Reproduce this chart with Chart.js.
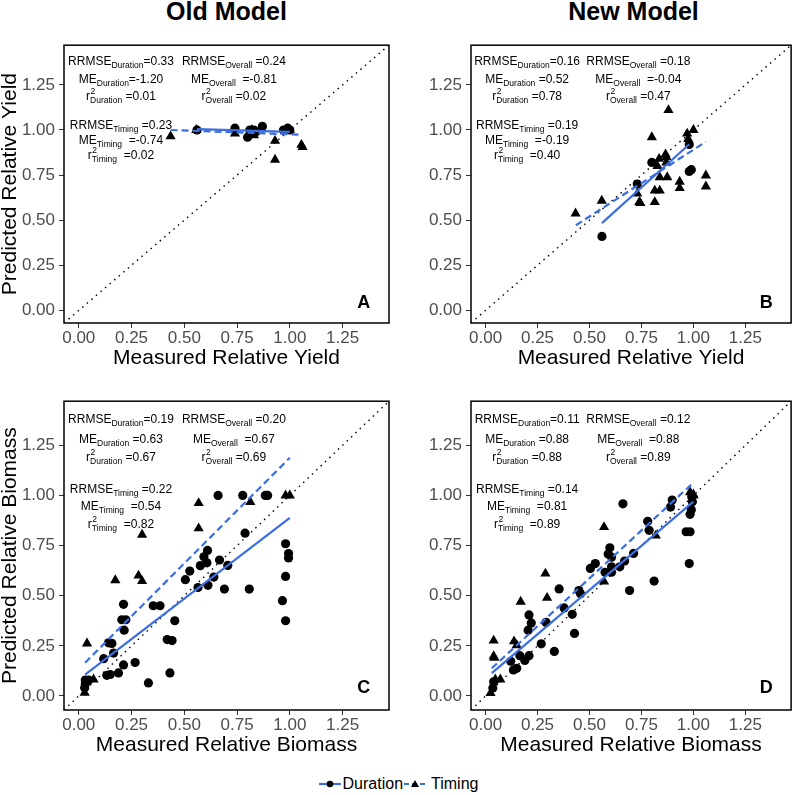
<!DOCTYPE html>
<html>
<head>
<meta charset="utf-8">
<script src="https://cdn.jsdelivr.net/npm/chart.js@4.4.1/dist/chart.umd.min.js"></script>
<style>
  body { margin: 0; background: #fff; width: 797px; height: 795px; position: relative; overflow: hidden;
         font-family: "Liberation Sans", Arial, sans-serif; }
  canvas { position: absolute; }
  .head { position: absolute; top: -1px; font-weight: bold; font-size: 25px; line-height: 24px; text-align: center; }
  #legend { position: absolute; left: 0; top: 774px; width: 797px; height: 20px; display: flex;
            justify-content: center; align-items: center; font-size: 16px; color: #000; }
  #legend span { margin-left: 2px; }
</style>
</head>
<body>
<div class="head" style="left:64px;width:325px">Old Model</div>
<div class="head" style="left:471px;width:325px">New Model</div>
<canvas id="chartA" width="398" height="356" style="left:0;top:31px"></canvas>
<canvas id="chartB" width="399" height="356" style="left:398px;top:31px"></canvas>
<canvas id="chartC" width="398" height="387" style="left:0;top:387px"></canvas>
<canvas id="chartD" width="399" height="387" style="left:398px;top:387px"></canvas>
<div id="legend">
  <svg width="22" height="12"><line x1="0" y1="6" x2="22" y2="6" stroke="#3b6ee0" stroke-width="2.2"/><circle cx="11" cy="6" r="3.3" fill="#000"/></svg><span>Duration</span>
  <svg width="22" height="12" style="margin-left:1px"><line x1="0" y1="6" x2="22" y2="6" stroke="#3b6ee0" stroke-width="2.2" stroke-dasharray="5,3"/><polygon points="11,2 15,9 7,9" fill="#000"/></svg><span style="margin-left:5px">Timing</span>
</div>
<script>
// axis ticks shared by every panel
const tickValues = [0, 0.25, 0.5, 0.75, 1, 1.25];
const axisMin = -0.07, axisMax = 1.47;

// Panel A: old model, yield
const durationA = [[0.56,1.00],[0.74,1.01],[0.80,0.96],[0.81,1.00],[0.83,1.00],[0.84,0.99],[0.87,1.02],[0.97,1.00],[0.99,1.01],[1.00,1.00]];
const timingA = [[0.435,0.965],[0.557,1.00],[0.74,0.98],[0.74,1.00],[0.82,1.00],[0.83,0.97],[0.93,0.94],[0.93,0.835],[0.99,1.00],[1.00,1.00],[1.055,0.918],[1.06,0.905]];
const fitDurationA = [[0.56,1.005],[1.00,0.99]];
const fitTimingA = [[0.435,1.00],[1.055,0.974]];

// Panel B: new model, yield
const durationB = [[0.56,0.41],[0.73,0.70],[0.80,0.82],[0.98,0.92],[0.98,0.77],[0.99,0.78]];
const timingB = [[0.433,0.537],[0.559,0.608],[0.73,0.647],[0.74,0.60],[0.745,0.595],[0.80,0.96],[0.814,0.664],[0.814,0.60],
  [0.827,0.80],[0.835,0.84],[0.838,0.664],[0.838,0.738],[0.866,0.865],[0.87,0.85],[0.87,0.82],[0.874,0.738],[0.88,1.11],
  [0.934,0.713],[0.934,0.678],[0.97,0.98],[0.975,0.95],[1.00,1.00],[1.06,0.748],[1.06,0.687]];
const fitDurationB = [[0.56,0.484],[0.98,0.921]];
const fitTimingB = [[0.435,0.472],[1.06,0.935]];

// Panel C: old model, biomass
const durationC = [[0.66,1.00],[0.777,1.00],[0.884,1.00],[0.895,1.00],[0.788,0.812],[0.98,0.759],[0.994,0.71],[0.994,0.688],
  [0.98,0.596],[0.965,0.475],[0.98,0.375],[0.808,0.533],[0.69,0.533],[0.706,0.651],[0.667,0.678],[0.64,0.593],[0.612,0.552],
  [0.565,0.541],[0.61,0.726],[0.593,0.694],[0.607,0.664],[0.576,0.65],[0.526,0.623],[0.505,0.58],[0.353,0.45],[0.385,0.45],
  [0.455,0.375],[0.419,0.281],[0.442,0.276],[0.432,0.115],[0.33,0.065],[0.267,0.167],[0.212,0.457],[0.204,0.38],[0.223,0.38],
  [0.215,0.328],[0.157,0.262],[0.141,0.265],[0.165,0.214],[0.118,0.186],[0.133,0.103],[0.149,0.107],[0.188,0.115],[0.212,0.155],
  [0.031,0.079],[0.047,0.079],[0.031,0.06],[0.028,0.041]];
const timingC = [[0.028,0.016],[0.039,0.262],[0.07,0.082],[0.173,0.577],[0.283,0.60],[0.30,0.573],[0.30,0.804],[0.568,0.962],
  [0.568,0.836],[0.813,0.967],[0.98,1.00],[1.00,1.00]];
const fitDurationC = [[0.03,0.107],[1.00,0.888]];
const fitTimingC = [[0.03,0.166],[1.00,1.188]];

// Panel D: new model, biomass
const durationD = [[0.661,0.958],[0.898,0.977],[0.89,0.942],[0.78,0.871],[0.787,0.826],[0.992,0.993],[0.995,0.969],[0.99,0.929],
  [0.984,0.906],[0.965,0.819],[0.984,0.819],[0.98,0.66],[0.811,0.573],[0.693,0.526],[0.598,0.739],[0.59,0.708],[0.606,0.692],
  [0.606,0.644],[0.606,0.617],[0.646,0.644],[0.669,0.673],[0.712,0.711],[0.575,0.617],[0.528,0.66],[0.504,0.636],[0.449,0.526],
  [0.457,0.51],[0.354,0.534],[0.378,0.439],[0.417,0.407],[0.428,0.312],[0.331,0.222],[0.268,0.26],[0.291,0.367],[0.22,0.364],
  [0.209,0.404],[0.205,0.328],[0.209,0.201],[0.189,0.177],[0.165,0.201],[0.15,0.138],[0.134,0.13],[0.121,0.173],[0.039,0.071],
  [0.035,0.04]];
const timingD = [[0.039,0.276],[0.039,0.198],[0.042,0.19],[0.024,0.014],[0.047,0.082],[0.071,0.082],[0.137,0.272],[0.15,0.253],
  [0.169,0.47],[0.288,0.61],[0.296,0.489],[0.57,0.842],[0.57,0.57],[0.819,0.80],[0.984,1.016],[1.00,1.00],[1.00,1.005]];
const fitDurationD = [[0.03,0.114],[1.00,0.969]];
const fitTimingD = [[0.03,0.138],[1.00,1.064]];

// fit statistics, one entry per panel (A, B, C, D)
const rrmseDuration = [0.33, 0.16, 0.19, 0.11];
const meDuration = [-1.20, 0.52, 0.63, 0.88];
const r2Duration = [0.01, 0.78, 0.67, 0.88];
const rrmseOverall = [0.24, 0.18, 0.20, 0.12];
const meOverall = [-0.81, -0.04, 0.67, 0.88];
const r2Overall = [0.02, 0.47, 0.69, 0.89];
const rrmseTiming = [0.23, 0.19, 0.22, 0.14];
const meTiming = [-0.74, -0.19, 0.54, 0.81];
const r2Timing = [0.02, 0.40, 0.82, 0.89];

const FONT = '"Liberation Sans", Arial, sans-serif';
const BLUE = '#3b6ee0';

const toXY = arr => arr.map(p => ({ x: p[0], y: p[1] }));

function drawStat(ctx, cx, cy, main, sup, sub, value) {
  const big = '12px ' + FONT, small = '8.5px ' + FONT;
  ctx.font = big;
  const wMain = ctx.measureText(main).width;
  const wVal = ctx.measureText(value).width;
  ctx.font = small;
  const wSub = ctx.measureText(sub).width;
  let x = cx - (wMain + wSub + wVal) / 2;
  const base = cy + 4;
  ctx.font = big;
  ctx.fillText(main, x, base);
  x += wMain;
  ctx.font = small;
  if (sup) ctx.fillText(sup, x + 0.5, base - 6);
  ctx.fillText(sub, x, base + 3);
  x += wSub;
  ctx.font = big;
  ctx.fillText(value, x, base);
}

const panelDecor = {
  id: 'panelDecor',
  afterDatasetsDraw(chart, args, opts) {
    const { ctx, chartArea: a, scales: { x, y } } = chart;
    const k = opts.k;
    const f = v => v.toFixed(2);
    ctx.save();
    ctx.fillStyle = '#000';
    ctx.textAlign = 'left';
    ctx.textBaseline = 'alphabetic';
    const lx = x.getPixelForValue(0.2), rx = x.getPixelForValue(0.735);
    const py = v => y.getPixelForValue(v);
    drawStat(ctx, lx, py(1.38), 'RRMSE', '', 'Duration', '=' + f(rrmseDuration[k]));
    drawStat(ctx, lx, py(1.28), 'ME', '', 'Duration', (meDuration[k] < 0 ? '=' : ' =') + f(meDuration[k]));
    drawStat(ctx, lx, py(1.19), 'r', '2', 'Duration', ' =' + f(r2Duration[k]));
    drawStat(ctx, rx, py(1.38), 'RRMSE', '', 'Overall', ' =' + f(rrmseOverall[k]));
    drawStat(ctx, rx, py(1.28), 'ME', '', 'Overall', '  =' + f(meOverall[k]));
    drawStat(ctx, rx, py(1.19), 'r', '2', 'Overall', ' =' + f(r2Overall[k]));
    drawStat(ctx, lx, py(1.03), 'RRMSE', '', 'Timing', ' =' + f(rrmseTiming[k]));
    drawStat(ctx, lx, py(0.945), 'ME', '', 'Timing', '  =' + f(meTiming[k]));
    drawStat(ctx, lx, py(0.86), 'r', '2', 'Timing', '  =' + f(r2Timing[k]));
    // panel letter
    ctx.font = 'bold 18px ' + FONT;
    ctx.textAlign = 'center';
    ctx.textBaseline = 'middle';
    ctx.fillText(opts.letter, x.getPixelForValue(1.35), py(0.04));
    // full panel border
    ctx.strokeStyle = '#000';
    ctx.lineWidth = 1.5;
    ctx.strokeRect(a.left, a.top, a.width, a.height);
    ctx.restore();
  }
};

function axis(title, fitSize, isX, titlePad) {
  return {
    type: 'linear',
    min: axisMin,
    max: axisMax,
    afterBuildTicks: s => { s.ticks = tickValues.map(v => ({ value: v })); },
    afterFit: s => { if (isX) s.height = fitSize; else s.width = fitSize; },
    ticks: {
      color: '#4D4D4D',
      font: { size: 17, family: FONT },
      padding: isX ? 0 : 4,
      autoSkip: false,
      maxRotation: 0,
      callback: v => v.toFixed(2)
    },
    grid: { drawOnChartArea: false, drawTicks: true, tickLength: 5, tickColor: '#333', tickWidth: 1 },
    border: { display: false },
    title: {
      display: !!title,
      text: title || '',
      color: '#000',
      font: { size: 21, family: FONT, lineHeight: 1 },
      padding: isX ? { top: 0, bottom: titlePad } : { top: titlePad, bottom: 0 }
    }
  };
}

function makePanel(id, k, letter, dur, tim, fitDur, fitTim, xTitle, yTitle, yWidth, padRight) {
  return new Chart(document.getElementById(id), {
    type: 'scatter',
    data: {
      datasets: [
        { label: 'Duration fit', type: 'line', data: toXY(fitDur), borderColor: BLUE, borderWidth: 2.2, pointRadius: 0, fill: false },
        { label: 'Timing fit', type: 'line', data: toXY(fitTim), borderColor: BLUE, borderWidth: 2.2, borderDash: [7, 4], pointRadius: 0, fill: false },
        { label: 'Duration', data: toXY(dur), pointStyle: 'circle', pointRadius: 4.6, backgroundColor: '#000', borderWidth: 0 },
        { label: 'Timing', data: toXY(tim), pointStyle: 'triangle', pointRadius: 5.9, backgroundColor: '#000', borderWidth: 0 },
        { label: '1:1', type: 'line', data: toXY([[axisMin, axisMin], [axisMax, axisMax]]), borderColor: '#000',
          borderWidth: 1.4, borderDash: [1.5, 4.5], pointRadius: 0, fill: false }
      ]
    },
    options: {
      responsive: false,
      animation: false,
      devicePixelRatio: 1,
      layout: { padding: { left: 0, right: padRight, top: 0, bottom: 0 } },
      scales: {
        x: axis(xTitle, 64, true, 18.5),
        y: axis(yTitle, yWidth, false, 0)
      },
      plugins: {
        legend: { display: false },
        tooltip: { enabled: false },
        panelDecor: { k: k, letter: letter }
      }
    },
    plugins: [panelDecor]
  });
}

makePanel('chartA', 0, 'A', durationA, timingA, fitDurationA, fitTimingA, 'Measured Relative Yield', 'Predicted Relative Yield', 64, 9);
makePanel('chartB', 1, 'B', durationB, timingB, fitDurationB, fitTimingB, 'Measured Relative Yield', null, 73, 1);
makePanel('chartC', 2, 'C', durationC, timingC, fitDurationC, fitTimingC, 'Measured Relative Biomass', 'Predicted Relative Biomass', 64, 9);
makePanel('chartD', 3, 'D', durationD, timingD, fitDurationD, fitTimingD, 'Measured Relative Biomass', null, 73, 1);
</script>
</body>
</html>
